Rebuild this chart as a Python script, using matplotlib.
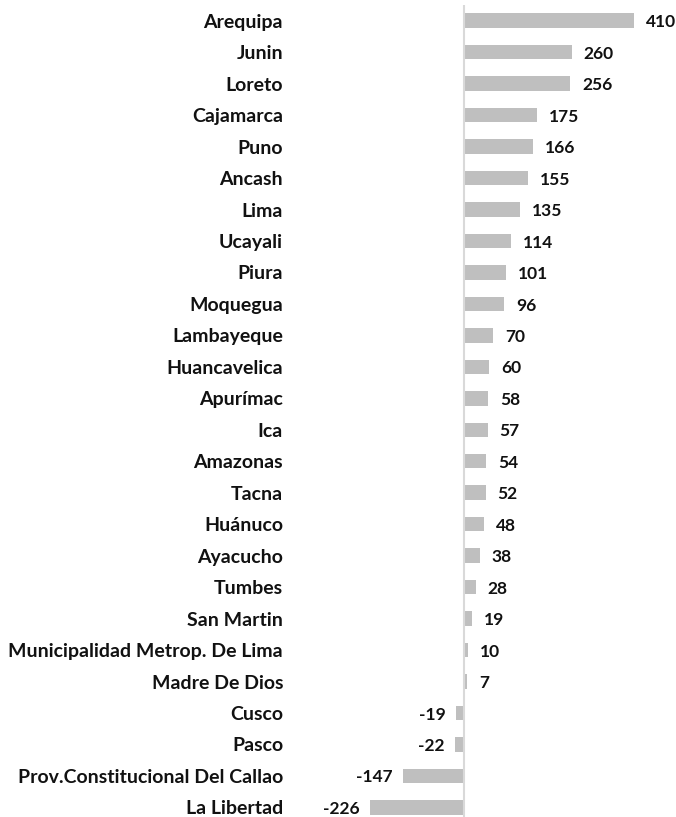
import matplotlib
matplotlib.use("Agg")
import matplotlib.pyplot as plt

regions = ["Arequipa", "Junin", "Loreto", "Cajamarca", "Puno", "Ancash", "Lima",
           "Ucayali", "Piura", "Moquegua", "Lambayeque", "Huancavelica", "Apurímac",
           "Ica", "Amazonas", "Tacna", "Huánuco", "Ayacucho", "Tumbes", "San Martin",
           "Municipalidad Metrop. De Lima", "Madre De Dios", "Cusco", "Pasco",
           "Prov.Constitucional Del Callao", "La Libertad"]
values = [410, 260, 256, 175, 166, 155, 135, 114, 101, 96, 70, 60, 58, 57, 54, 52,
          48, 38, 28, 19, 10, 7, -19, -22, -147, -226]

plt.rcParams['font.family'] = ['Lato', 'DejaVu Sans']

W, H = 676, 817
fig = plt.figure(figsize=(W / 100, H / 100), dpi=100)
left_px, right_px = 290, 662
top_px, bot_px = 5, 817
ax = fig.add_axes([left_px / W, 1 - bot_px / H, (right_px - left_px) / W, (bot_px - top_px) / H])

n = len(regions)
ypos = list(range(n))
ax.barh(ypos, values, height=0.46, color="#BFBFBF", zorder=2)
ax.axvline(0, color="#D9D9D9", lw=1.5, zorder=3)

scale = 0.4146  # px per unit
ax.set_xlim((left_px - 464) / scale, (right_px - 464) / scale)
ax.set_ylim(n - 1 + (817 - 807) / 32.75, -0.5)

ax.set_yticks(ypos)
ax.set_yticklabels(regions, fontsize=14, fontweight="bold", color="#111111")
ax.tick_params(axis="y", length=0, pad=5)
ax.set_xticks([])
for s in ax.spines.values():
    s.set_visible(False)

for y, v in zip(ypos, values):
    off = 12 / scale
    if v >= 0:
        ax.text(v + off, y + 0.05, str(v), ha="left", va="center", fontsize=12.5,
                fontweight="bold", color="#111111")
    else:
        ax.text(v - off * 0.9, y + 0.05, str(v), ha="right", va="center", fontsize=12.5,
                fontweight="bold", color="#111111")

fig.savefig("out.png", dpi=100)
